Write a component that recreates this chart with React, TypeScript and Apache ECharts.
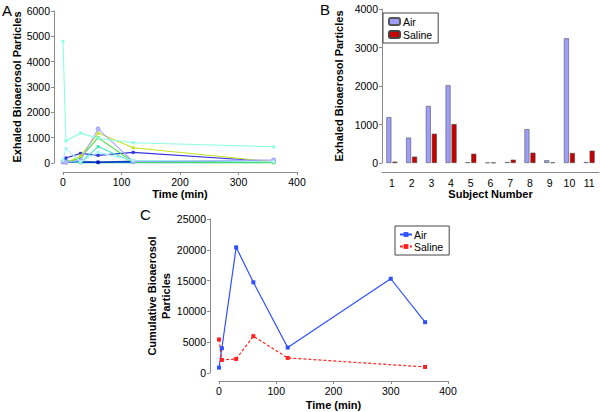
import React, { useEffect, useRef } from 'react';
import * as echarts from 'echarts';

const FONT = '"Liberation Sans", Arial, sans-serif';

// Panel A: exhaled bioaerosol particles per subject over time
const timesA = [0, 5, 30, 60, 120, 360];
const subjectNamesA = ['S1', 'S2', 'S3', 'S4', 'S5', 'S6', 'S7', 'S8', 'S9', 'S10', 'S11'];
const s1 = [4800, 870, 1180, 980, 800, 640];
const s2 = [100, 580, 50, 420, 100, 50];
const s3 = [50, 30, 100, 1350, 60, 120];
const s4 = [20, 10, 280, 1180, 600, 50];
const s5 = [30, 20, 200, 1000, 40, 30];
const s6 = [40, 50, 20, 650, 30, 20];
const s7 = [30, 200, 380, 300, 420, 50];
const s8 = [20, 20, 30, 30, 50, 40];
const s9 = [80, 60, 80, 40, 80, 60];
const s10 = [60, 100, 40, 20, 30, 20];
const s11 = [10, 40, 10, 10, 20, 10];
const seriesA = [s1, s2, s3, s4, s5, s6, s7, s8, s9, s10, s11];
const colorsA = ['#88ffe0', '#a8f4f4', '#a8a8ff', '#c4e020', '#44e044', '#44e8b4', '#3434e0', '#0000c8', '#2a80a8', '#10d0e0', '#20c080'];

// Panel B: per subject totals
const subjects = ['1', '2', '3', '4', '5', '6', '7', '8', '9', '10', '11'];
const airB = [1190, 660, 1480, 2020, 20, 10, 25, 880, 70, 3240, 25];
const salineB = [35, 165, 760, 1010, 240, 10, 85, 268, 15, 260, 320];

// Panel C: cumulative bioaerosol particles
const timesAirC = [0, 5, 30, 60, 120, 300, 360];
const airC = [870, 4020, 20400, 14730, 4130, 15300, 8250];
const timesSalineC = [0, 5, 30, 60, 120, 360];
const salineC = [5450, 2120, 2280, 5980, 2450, 980];

const axisGray = '#8a8a8a';

function valueAxisBase(extra: any) {
  return {
    type: 'value',
    splitLine: { show: false },
    axisLine: { show: true, onZero: false, lineStyle: { color: axisGray, width: 1 } },
    axisTick: { show: true, length: 3, lineStyle: { color: axisGray } },
    axisLabel: { color: '#000', fontSize: 10.5, fontFamily: FONT, margin: 4, formatter: (v: number) => String(v) },
    nameTextStyle: { color: '#000', fontSize: 11, fontWeight: 'bold', fontFamily: FONT },
    ...extra,
  };
}

export default function App() {
  const ref = useRef<HTMLDivElement>(null);
  useEffect(() => {
    if (!ref.current) return;
    const chart = echarts.init(ref.current, undefined, { renderer: 'svg' });

    const aSeries = seriesA.map((vals, i) => ({
      name: subjectNamesA[i],
      type: 'line',
      xAxisIndex: 0,
      yAxisIndex: 0,
      data: vals.map((v, j) => [timesA[j], v]),
      symbol: i === 2 ? 'emptyCircle' : 'rect',
      symbolSize: 3,
      showSymbol: true,
      clip: false,
      lineStyle: { width: 1.1, color: colorsA[i] },
      itemStyle: { color: colorsA[i] },
      z: 2 + (seriesA.length - i),
    }));

    const option: any = {
      animation: false,
      backgroundColor: '#fff',
      textStyle: { fontFamily: FONT },
      grid: [
        { left: 63, top: 11, width: 234, height: 152 },
        { left: 382, top: 9, width: 217, height: 154 },
        { left: 219, top: 219, width: 229, height: 154 },
      ],
      xAxis: [
        valueAxisBase({
          gridIndex: 0, min: 0, max: 400, interval: 100, offset: 9,
          name: 'Time (min)', nameLocation: 'middle', nameGap: 16,
        }),
        {
          type: 'category', gridIndex: 1, data: subjects, offset: 9,
          axisLine: { show: true, onZero: false, lineStyle: { color: axisGray } },
          axisTick: { show: false },
          axisLabel: { color: '#000', fontSize: 10.5, fontFamily: FONT, margin: 5 },
          name: 'Subject Number', nameLocation: 'middle', nameGap: 16,
          nameTextStyle: { color: '#000', fontSize: 11, fontWeight: 'bold', fontFamily: FONT },
        },
        valueAxisBase({
          gridIndex: 2, min: 0, max: 400, interval: 100, offset: 8,
          name: 'Time (min)', nameLocation: 'middle', nameGap: 18,
        }),
      ],
      yAxis: [
        valueAxisBase({
          gridIndex: 0, min: 0, max: 6000, interval: 1000, offset: 9,
          name: 'Exhaled Bioaerosol Particles', nameLocation: 'middle', nameGap: 23, nameRotate: 90,
        }),
        valueAxisBase({
          gridIndex: 1, min: 0, max: 4000, interval: 1000, offset: 0,
          name: 'Exhaled Bioaerosol Particles', nameLocation: 'middle', nameGap: 38, nameRotate: 90,
        }),
        valueAxisBase({
          gridIndex: 2, min: 0, max: 25000, interval: 5000, offset: 9,
          name: 'Cumulative Bioaerosol\nParticles', nameLocation: 'middle', nameGap: 30, nameRotate: 90,
          nameTextStyle: { color: '#000', fontSize: 11, fontWeight: 'bold', fontFamily: FONT, lineHeight: 14 },
        }),
      ],
      legend: [
        {
          data: ['Air', 'Saline'],
          orient: 'vertical', left: 383, top: 13,
          borderColor: '#444', borderWidth: 1, padding: [3, 6, 3, 5], itemGap: 2,
          itemWidth: 11, itemHeight: 7,
          textStyle: { fontSize: 10.5, color: '#000', fontFamily: FONT, padding: [0, 0, 0, -2] },
        },
        {
          data: ['Air (C)', 'Saline (C)'],
          formatter: (n: string) => n.replace(' (C)', ''),
          orient: 'vertical', left: 395, top: 226,
          borderColor: '#444', borderWidth: 1, padding: [3, 6, 3, 4], itemGap: 1,
          itemWidth: 12, itemHeight: 6,
          textStyle: { fontSize: 10.5, color: '#000', fontFamily: FONT, padding: [0, 0, 0, -3] },
        },
      ],
      graphic: [
        { type: 'text', left: 2, top: 3, style: { text: 'A', fontSize: 15, fontFamily: FONT, fill: '#000' } },
        { type: 'text', left: 320, top: 2, style: { text: 'B', fontSize: 15, fontFamily: FONT, fill: '#000' } },
        { type: 'text', left: 140, top: 207, style: { text: 'C', fontSize: 15, fontFamily: FONT, fill: '#000' } },
      ],
      series: [
        ...aSeries,
        {
          name: 'Air', type: 'bar', xAxisIndex: 1, yAxisIndex: 1, data: airB,
          barWidth: 5, barGap: '20%',
          itemStyle: { color: '#9d9dfa', borderColor: '#555', borderWidth: 0.6 },
        },
        {
          name: 'Saline', type: 'bar', xAxisIndex: 1, yAxisIndex: 1, data: salineB,
          barWidth: 5, barGap: '20%',
          itemStyle: { color: '#c80000', borderColor: '#444', borderWidth: 0.6 },
        },
        {
          name: 'Air (C)', type: 'line', xAxisIndex: 2, yAxisIndex: 2,
          data: airC.map((v, i) => [timesAirC[i], v]),
          symbol: 'rect', symbolSize: 4, clip: false,
          lineStyle: { color: '#2f4fff', width: 1.2 },
          itemStyle: { color: '#2f4fff' },
        },
        {
          name: 'Saline (C)', type: 'line', xAxisIndex: 2, yAxisIndex: 2,
          data: salineC.map((v, i) => [timesSalineC[i], v]),
          symbol: 'rect', symbolSize: 4, clip: false,
          lineStyle: { color: '#ff2020', width: 1.2, type: [3, 2] },
          itemStyle: { color: '#ff2020' },
        },
      ],
    };
    chart.setOption(option);
    return () => chart.dispose();
  }, []);
  return (
    <div
      ref={ref}
      style={{ position: 'fixed', left: 0, top: 0, width: 600, height: 412, background: '#fff' }}
    />
  );
}
